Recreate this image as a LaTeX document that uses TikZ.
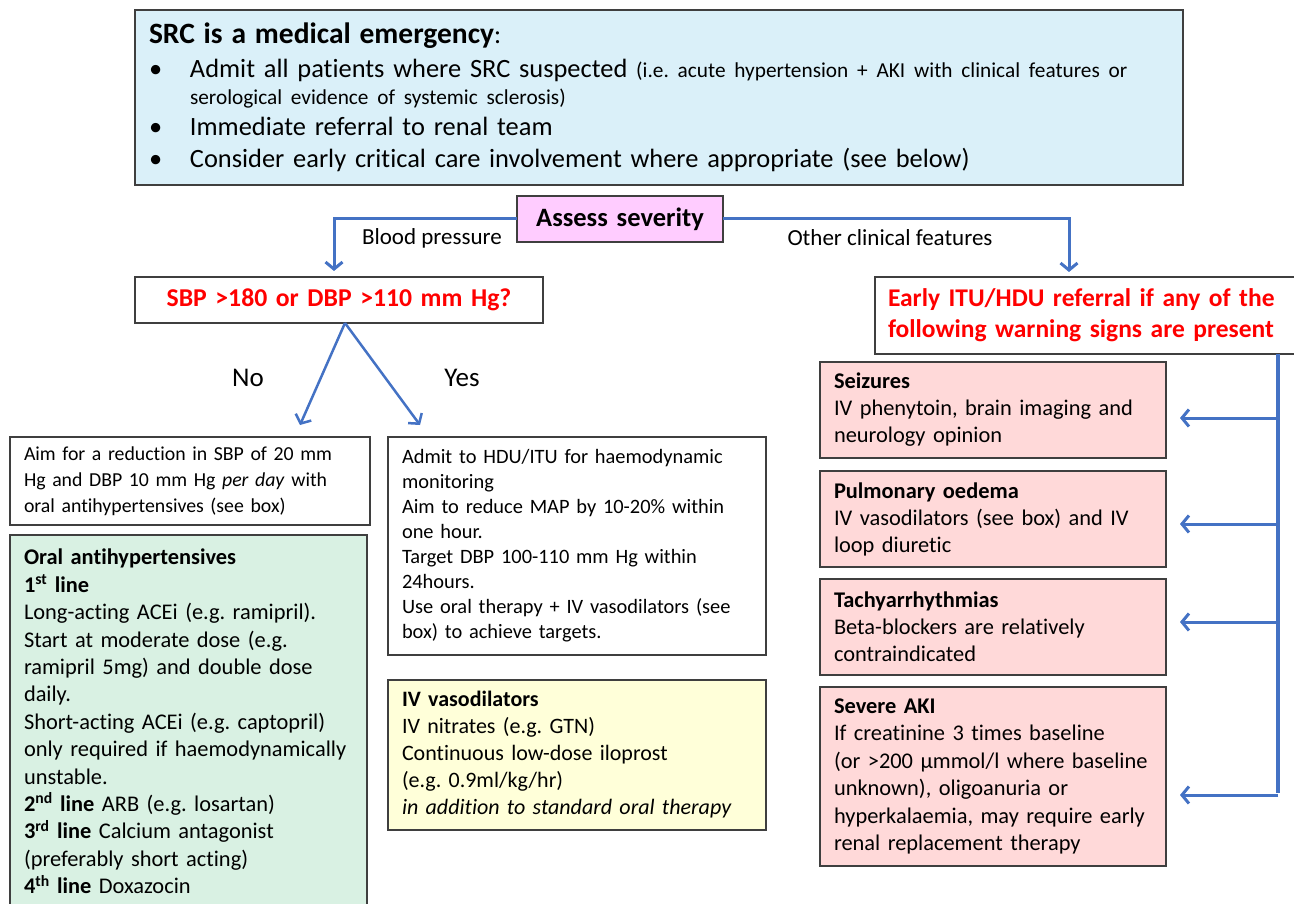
\documentclass[tikz,border=0pt]{standalone}
\usepackage{fontspec}
\setmainfont{Carlito}[Ligatures=NoCommon]
\usetikzlibrary{arrows.meta,calc}
\definecolor{boxgray}{HTML}{3F3F3F}
\definecolor{linkblue}{HTML}{4472C4}
\definecolor{srcblue}{HTML}{DAF0F9}
\definecolor{oralgreen}{HTML}{D9F1E3}
\definecolor{ivyellow}{HTML}{FFFFD9}
\definecolor{warnpink}{HTML}{FFD9D9}
\definecolor{assesspink}{HTML}{FFCCFF}
\definecolor{alertred}{HTML}{FF0000}
\frenchspacing
\tikzset{
  box/.style={draw=boxgray,line width=1.5pt,inner xsep=14pt,inner ysep=0pt,outer sep=0pt,
    anchor=north west,align=left},
  arr/.style={draw=linkblue,line width=3pt,-{Straight Barb[length=7pt,width=17pt]}},
  bus/.style={draw=linkblue,line width=4.5pt},
  lbl/.style={font=\fontsize{23}{26}\selectfont}
}
\newcommand{\bul}{\makebox[41pt][l]{\textbullet}}
\begin{document}
\begin{tikzpicture}[x=1pt,y=-1pt]
  \useasboundingbox (0,0) rectangle (1294,904);
  \node[box,fill=srcblue,line width=2pt,text width=1020pt,minimum height=175pt,
    font=\fontsize{26.4}{31}\selectfont] (src) at (135,10)
    {{\fontsize{29.5}{32}\selectfont\bfseries SRC is a medical emergency}:\\[3pt]
     \bul Admit all patients where SRC suspected {\fontsize{21.3}{24}\selectfont (i.e. acute hypertension + AKI with clinical features or}\\[-4pt]
     \hspace*{41pt}{\fontsize{21.3}{24}\selectfont serological evidence of systemic sclerosis)}\\
     \bul Immediate referral to renal team\\[1pt]
     \bul Consider early critical care involvement where appropriate (see below)};
  \node[box,fill=assesspink,text width=178pt,minimum height=46pt,align=center,
    font=\fontsize{26.5}{30}\selectfont\bfseries] (assess) at (517,196) {Assess severity};
  \node[box,text width=380pt,minimum height=46pt,align=center,text=alertred,
    font=\fontsize{25.7}{30}\selectfont\bfseries] (sbp) at (135,277) {SBP >180 or DBP >110 mm Hg?};
  \node[box,text width=420pt,minimum height=77pt,inner xsep=13pt,text=alertred,
    font=\fontsize{25.5}{31}\selectfont\bfseries] (warn) at (875,277)
    {Early ITU/HDU referral if any of the\\following warning signs are present};
  \node[lbl] (bp) at (432,238) {Blood pressure};
  \node[lbl] (other) at (890,238) {Other clinical features};
  \node[font=\fontsize{27}{30}\selectfont] (no) at (248,378) {No};
  \node[font=\fontsize{27}{30}\selectfont] (yes) at (462,378) {Yes};

  \node[box,text width=332pt,minimum height=88pt,font=\fontsize{19.8}{26}\selectfont] (aim) at (10,437)
    {Aim for a reduction in SBP of 20 mm\\Hg and DBP 10 mm Hg \textit{per day} with\\oral antihypertensives (see box)};
  \node[box,fill=oralgreen,text width=329pt,minimum height=373pt,font=\fontsize{22.4}{27.4}\selectfont] (oral) at (10,535)
    {\textbf{Oral antihypertensives}\\
     \textbf{1\textsuperscript{st} line}\\
     Long-acting ACEi (e.g. ramipril).\\
     Start at moderate dose (e.g.\\
     ramipril 5mg) and double dose\\
     daily.\\
     Short-acting ACEi (e.g. captopril)\\
     only required if haemodynamically\\
     unstable.\\
     \textbf{2\textsuperscript{nd} line} ARB (e.g. losartan)\\
     \textbf{3\textsuperscript{rd} line} Calcium antagonist\\
     (preferably short acting)\\
     \textbf{4\textsuperscript{th} line} Doxazocin};
  \node[box,text width=350pt,minimum height=218pt,font=\fontsize{20.4}{25}\selectfont] (hdu) at (388,437)
    {Admit to HDU/ITU for haemodynamic\\monitoring\\Aim to reduce MAP by 10-20\% within\\one hour.\\
     Target DBP 100-110 mm Hg within\\24hours.\\Use oral therapy + IV vasodilators (see\\box) to achieve targets.};
  \node[box,fill=ivyellow,text width=350pt,minimum height=150pt,font=\fontsize{22}{27}\selectfont] (ivv) at (388,680)
    {\textbf{IV vasodilators}\\IV nitrates (e.g. GTN)\\Continuous low-dose iloprost\\(e.g. 0.9ml/kg/hr)\\
     \textit{in addition to standard oral therapy}};

  \node[box,fill=warnpink,text width=318pt,minimum height=96pt,font=\fontsize{22.4}{27}\selectfont] (seiz) at (820,362)
    {\textbf{Seizures}\\IV phenytoin, brain imaging and\\neurology opinion};
  \node[box,fill=warnpink,text width=318pt,minimum height=96pt,font=\fontsize{22.4}{27}\selectfont] (pulm) at (820,471)
    {\textbf{Pulmonary oedema}\\IV vasodilators (see box) and IV\\loop diuretic};
  \node[box,fill=warnpink,text width=318pt,minimum height=96pt,font=\fontsize{22.4}{27}\selectfont] (tachy) at (820,579)
    {\textbf{Tachyarrhythmias}\\Beta-blockers are relatively\\contraindicated};
  \node[box,fill=warnpink,text width=318pt,minimum height=179pt,font=\fontsize{22.4}{27.4}\selectfont] (aki) at (820,687)
    {\textbf{Severe AKI}\\If creatinine 3 times baseline\\(or >200 µmmol/l where baseline\\unknown), oligoanuria or\\
     hyperkalaemia, may require early\\renal replacement therapy};

  \draw[arr,shorten >=6pt] (assess.west) -| ([xshift=-5pt]sbp.north);
  \draw[arr,shorten >=5pt] (assess.east) -| ([xshift=194pt]warn.north west);
  \coordinate (noTip) at (300,425);
  \coordinate (yesTip) at (420,425);
  \draw[arr,line width=2.5pt] ([xshift=6pt]sbp.south) -- (noTip);
  \draw[arr,line width=2.5pt] ([xshift=6pt]sbp.south) -- (yesTip);

  \coordinate (b1) at (1278,418);
  \coordinate (b2) at (1278,524);
  \coordinate (b3) at (1278,622);
  \coordinate (b4) at (1278,795);
  \draw[bus] (b1 |- warn.south) -- ([yshift=2pt]b4);
  \draw[arr,shorten >=14pt] (b1) -- (b1 -| seiz.east);
  \draw[arr,shorten >=14pt] (b2) -- (b2 -| pulm.east);
  \draw[arr,shorten >=14pt] (b3) -- (b3 -| tachy.east);
  \draw[arr,shorten >=14pt] (b4) -- (b4 -| aki.east);
\end{tikzpicture}
\end{document}
